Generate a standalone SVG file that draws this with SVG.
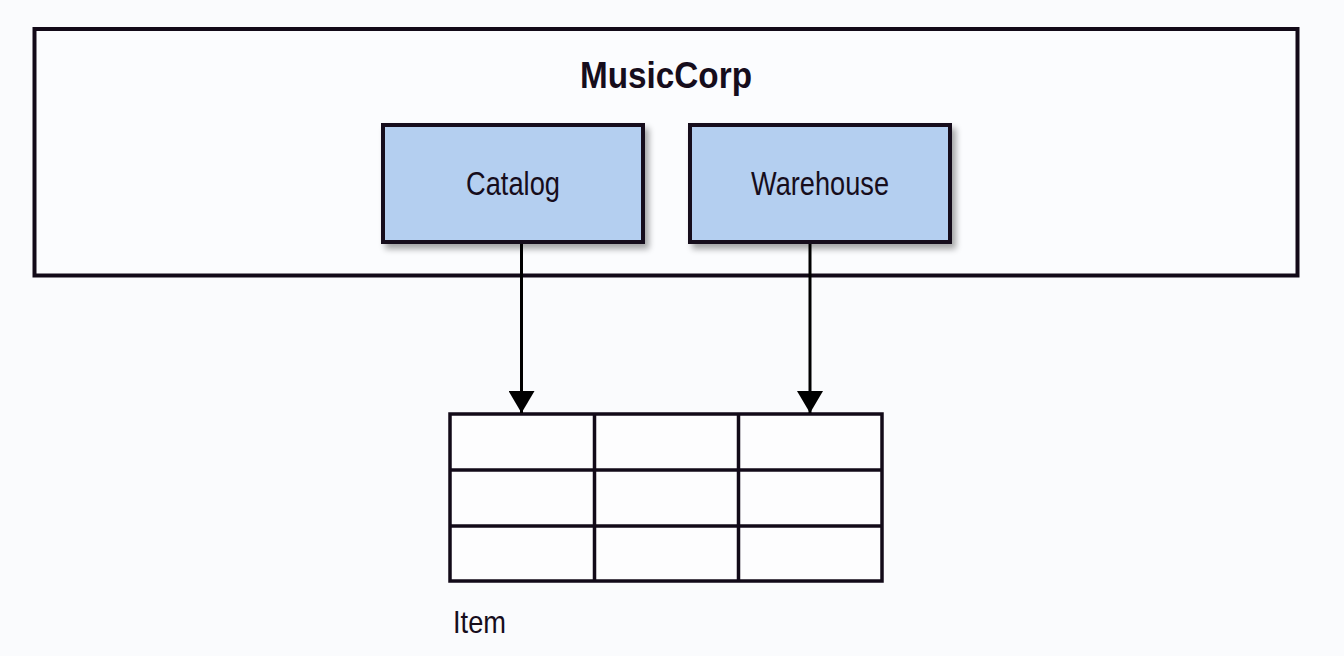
<svg xmlns="http://www.w3.org/2000/svg" width="1344" height="656" viewBox="0 0 1344 656">
  <style>
    .frame { fill: #fbfcfe; stroke: #120a18; stroke-width: 4; }
    .svc { fill: #b4cff0; stroke: #160d1c; stroke-width: 4; filter: url(#shadow); }
    .lbl { font-family: "Liberation Sans", Arial, sans-serif; fill: #160d1c; }
    .grid { fill: #fdfdfe; stroke: #120a18; stroke-width: 3.5; }
    .gl { stroke: #120a18; stroke-width: 3.5; }
    .conn { stroke: #000; stroke-width: 3; fill: none; }
  </style>
  <defs>
    <filter id="shadow" x="-10%" y="-10%" width="130%" height="140%">
      <feGaussianBlur in="SourceAlpha" stdDeviation="3"/>
      <feOffset dx="4" dy="5" result="b"/>
      <feComponentTransfer><feFuncA type="linear" slope="0.35"/></feComponentTransfer>
      <feMerge><feMergeNode/><feMergeNode in="SourceGraphic"/></feMerge>
    </filter>
    <marker id="arrow" markerWidth="22" markerHeight="26" refX="22" refY="13" orient="auto" markerUnits="userSpaceOnUse" viewBox="0 0 22 26">
      <path d="M0,0 L22,13 L0,26 Z" fill="#000"/>
    </marker>
  </defs>
  <rect width="1344" height="656" fill="#fafbfd"/>

  <g id="musiccorp">
    <rect class="frame" x="34.5" y="29" width="1263" height="246.5"/>
    <text class="lbl" x="666" y="88" font-size="37" font-weight="bold" text-anchor="middle" textLength="172" lengthAdjust="spacingAndGlyphs">MusicCorp</text>
  </g>

  <g id="catalog">
    <rect class="svc" x="383" y="125" width="260" height="117"/>
    <text class="lbl" x="513" y="195" font-size="33" text-anchor="middle" textLength="94" lengthAdjust="spacingAndGlyphs">Catalog</text>
  </g>

  <g id="warehouse">
    <rect class="svc" x="690" y="125" width="260" height="117"/>
    <text class="lbl" x="820" y="195" font-size="33" text-anchor="middle" textLength="138" lengthAdjust="spacingAndGlyphs">Warehouse</text>
  </g>

  <g id="item">
    <rect class="grid" x="450" y="414" width="432" height="167"/>
    <line class="gl" x1="450" y1="470" x2="882" y2="470"/>
    <line class="gl" x1="450" y1="526" x2="882" y2="526"/>
    <line class="gl" x1="594.5" y1="414" x2="594.5" y2="581"/>
    <line class="gl" x1="738.5" y1="414" x2="738.5" y2="581"/>
    <text class="lbl" x="453" y="633" font-size="32" textLength="53" lengthAdjust="spacingAndGlyphs">Item</text>
  </g>

  <g id="connectors">
    <line class="conn" x1="521.5" y1="244" x2="521.5" y2="413" marker-end="url(#arrow)"/>
    <line class="conn" x1="810" y1="244" x2="810" y2="413" marker-end="url(#arrow)"/>
  </g>
</svg>
